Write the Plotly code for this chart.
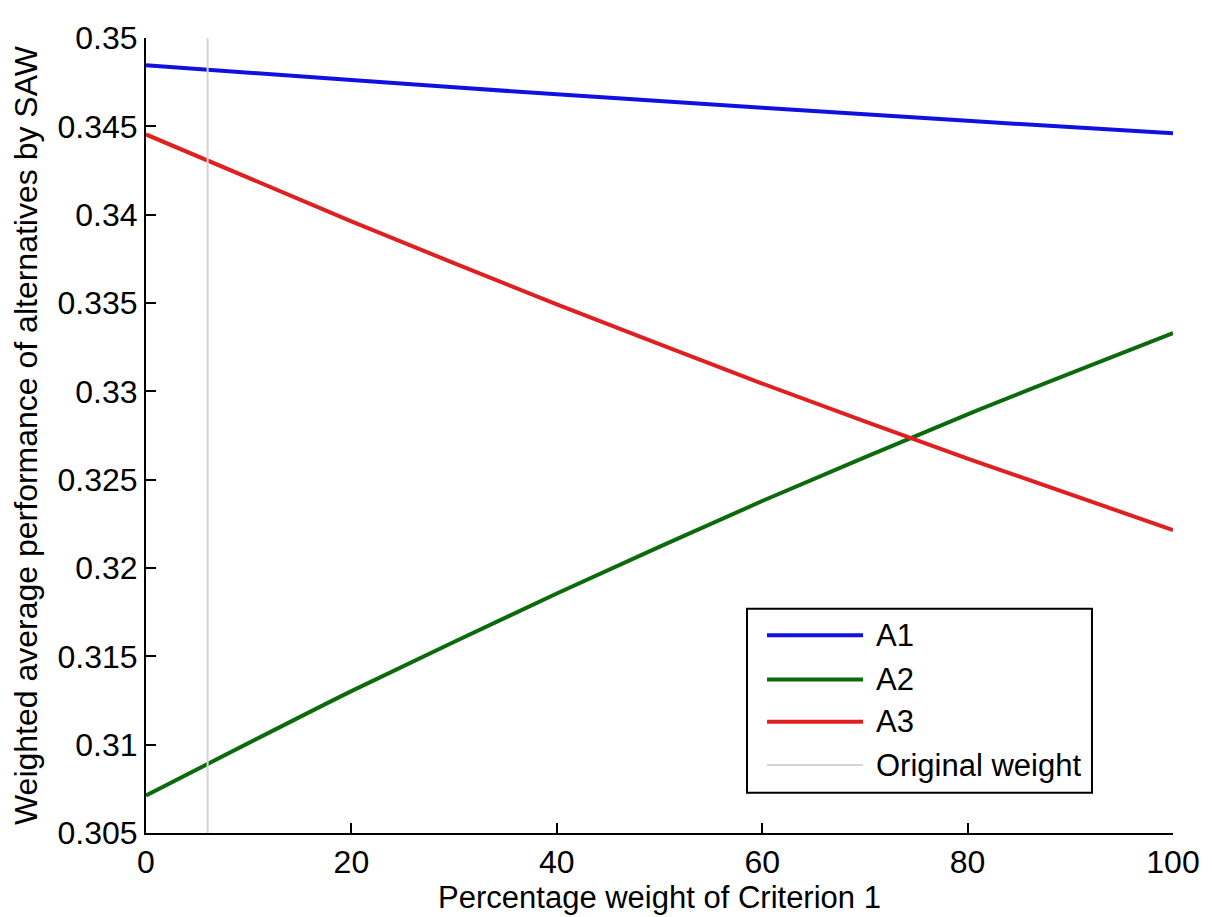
import plotly.graph_objects as go

# Data
weights = [0, 20, 40, 60, 80, 100]
a1 = [0.34846, 0.34762, 0.34681, 0.34605, 0.34531, 0.34461]
a2 = [0.30712, 0.31303, 0.31856, 0.32379, 0.32870, 0.33329]
a3 = [0.34454, 0.33962, 0.33492, 0.33044, 0.32619, 0.32215]
orig_weight = 6.0
y_range = [0.305, 0.35]
x_ticks = [0, 20, 40, 60, 80, 100]
y_ticks = [0.305, 0.31, 0.315, 0.32, 0.325, 0.33, 0.335, 0.34, 0.345, 0.35]
y_ticktext = ["0.305", "0.31", "0.315", "0.32", "0.325", "0.33", "0.335", "0.34", "0.345", "0.35"]
series_names = ["A1", "A2", "A3", "Original weight"]
series_colors = ["#1010e0", "#0b6b0b", "#e02020", "#d4d4d4"]
series_widths = [4, 4, 4, 2]

font = "Liberation Sans, Arial, sans-serif"

fig = go.Figure()
for name, ys, col, w in zip(series_names[:3], [a1, a2, a3], series_colors[:3], series_widths[:3]):
    fig.add_trace(go.Scatter(x=weights, y=ys, mode="lines", name=name,
                             line=dict(color=col, width=w, shape="spline", smoothing=0.6)))
fig.add_trace(go.Scatter(x=[orig_weight, orig_weight], y=y_range, mode="lines",
                         name=series_names[3],
                         line=dict(color=series_colors[3], width=series_widths[3])))

# Custom legend box (paper coordinates)
box_x0, box_x1, box_y0, box_y1 = 0.5852, 0.9211, 0.0507, 0.2822
item_y = [0.2488, 0.1931, 0.1399, 0.0854]
shapes = [dict(type="rect", xref="paper", yref="paper", x0=box_x0, x1=box_x1,
               y0=box_y0, y1=box_y1, line=dict(color="black", width=2),
               fillcolor="white", layer="above")]
annotations = []
for name, col, w, yy in zip(series_names, series_colors, series_widths, item_y):
    shapes.append(dict(type="line", xref="paper", yref="paper", x0=0.6047, x1=0.6982,
                       y0=yy, y1=yy, line=dict(color=col, width=w), layer="above"))
    annotations.append(dict(xref="paper", yref="paper", x=0.7089, y=yy, text=name,
                            showarrow=False, xanchor="left", yanchor="middle",
                            font=dict(family=font, size=31, color="black")))

fig.update_layout(
    width=1212, height=917,
    margin=dict(l=138, r=47, t=17, b=92),
    paper_bgcolor="white", plot_bgcolor="white",
    font=dict(family=font, size=31, color="black"),
    showlegend=False,
    shapes=shapes,
    annotations=annotations,
    xaxis=dict(range=[0, 100], tickvals=x_ticks, ticks="inside", ticklen=10,
               tickwidth=2, tickcolor="black", showline=True, linecolor="black",
               linewidth=2, showgrid=False, zeroline=False,
               ticklabeloverflow="allow",
               title=dict(text="Percentage weight of Criterion 1", standoff=2,
                          font=dict(family=font, size=31)),
               tickfont=dict(size=32)),
    yaxis=dict(range=y_range, tickvals=y_ticks, ticktext=y_ticktext,
               ticks="inside", ticklen=10, tickwidth=2, tickcolor="black",
               showline=True, linecolor="black", linewidth=2, showgrid=False,
               zeroline=False, ticklabeloverflow="allow",
               title=dict(text="Weighted average performance of alternatives by SAW",
                          standoff=12, font=dict(family=font, size=32)),
               tickfont=dict(size=32)),
)

fig.write_html("out.html")
